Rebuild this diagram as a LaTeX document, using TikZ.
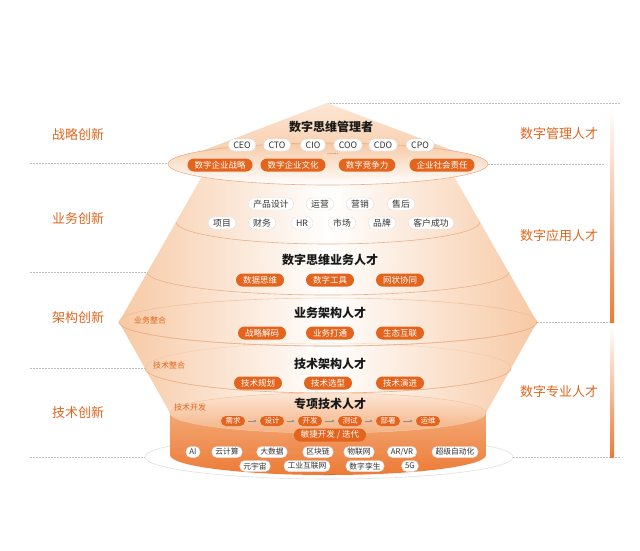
\documentclass[tikz,border=0pt]{standalone}
\usepackage{fontspec}
\setmainfont{Noto Sans CJK SC}
\usetikzlibrary{calc}
\usetikzlibrary{positioning}
\usetikzlibrary{arrows.meta}
\definecolor{chipOrange}{HTML}{E4641D}
\definecolor{labelOrange}{HTML}{E0661F}
\definecolor{peach}{HTML}{F7C9A4}
\definecolor{peachLight}{HTML}{FCE6D4}
\definecolor{lineOrange}{HTML}{EBB08A}
\definecolor{cylTop}{HTML}{F5B68A}
\definecolor{cylBottom}{HTML}{EC7B36}
\tikzstyle{whitenode} = [draw=black!12, fill=white, rounded corners=6pt, inner xsep=5pt, inner ysep=0pt, minimum height=12pt, text=black!80, font=\fontsize{8.8}{9}\selectfont]
\tikzstyle{technode} = [whitenode, rounded corners=5pt, inner xsep=3.5pt, minimum height=11pt, font=\fontsize{7.8}{8}\selectfont]
\tikzstyle{orangenode} = [fill=chipOrange, rounded corners=6.5pt, inner xsep=7pt, inner ysep=0pt, minimum height=13pt, text=white, font=\fontsize{8.5}{9}\selectfont]
\tikzstyle{flownode} = [orangenode, rounded corners=5pt, minimum height=10pt, inner xsep=4.5pt, font=\fontsize{7.5}{8}\selectfont]
\tikzstyle{titlenode} = [text=black!90, font=\fontsize{12}{14}\selectfont\bfseries]
\tikzstyle{sidelabel} = [text=labelOrange, font=\fontsize{13}{15}\selectfont]
\tikzstyle{smalllabel} = [text=labelOrange, font=\fontsize{8}{9}\selectfont]
\tikzstyle{dotsnode} = [text=black!70, font=\fontsize{7}{8}\selectfont, inner sep=0pt]
\tikzstyle{guideline} = [black!25, dash pattern=on 1.5pt off 1.5pt, line width=0.5pt]
\tikzstyle{bandline} = [draw=lineOrange, line width=0.6pt]
\tikzstyle{flowarrow} = [-{Latex[length=2.5pt, width=2.5pt]}, black!45, line width=0.5pt, shorten >=3pt, shorten <=3pt]

\begin{document}
\begin{tikzpicture}[x=1pt, y=-1pt]
    \useasboundingbox[fill=white] (0,0) rectangle (640,550);

    % guide lines
    \draw[guideline] (30,163) -- (168,163);
    \draw[guideline] (30,272) -- (148,272);
    \draw[guideline] (30,368) -- (146,368);
    \draw[guideline] (30,457) -- (145,457);
    \draw[guideline] (327,103) -- (620,103);
    \draw[guideline] (488,164) -- (605,164);
    \draw[guideline] (537,322) -- (612,322);
    \draw[guideline] (513,457) -- (620,457);

    % right bars
    \shade[top color=white, bottom color=cylBottom] (610,108) rectangle (614,322);
    \shade[top color=white, bottom color=cylBottom] (610,326) rectangle (614,457);

    % base plate
    \draw[draw=black!12, fill=white, line width=0.6pt] (329,457) ellipse [x radius=184pt, y radius=22pt];

    % double cone
    \shade[left color=peach, right color=peach, middle color=white]
        (209,164) -- (119,322) -- (170,413) -- (486,413) -- (537,322) -- (447,164) -- cycle;
    \draw[bandline] (176,222) arc [start angle=180, end angle=360, x radius=152pt, y radius=22pt];
    \draw[bandline] (147,272) arc [start angle=180, end angle=360, x radius=181pt, y radius=23pt];
    \draw[bandline, opacity=0.6] (328,322) ellipse [x radius=209pt, y radius=24pt];
    \draw[bandline] (119,322) arc [start angle=180, end angle=360, x radius=209pt, y radius=24pt];
    \draw[bandline, opacity=0.3] (328,368) ellipse [x radius=183pt, y radius=25pt];
    \draw[bandline] (145,368) arc [start angle=180, end angle=360, x radius=183pt, y radius=25pt];

    % top cone
    \shade[top color=peachLight, bottom color=peach] (327,103) -- (168,164) -- (488,164) -- cycle;
    \shade[bandline, top color=peach, bottom color=white] (328,164) ellipse [x radius=160pt, y radius=21pt];

    % cylinder
    \shade[top color=cylTop, bottom color=cylBottom]
        (170,413) -- (170,455) arc [start angle=180, end angle=360, x radius=158pt, y radius=20pt]
        -- (486,413) arc [start angle=0, end angle=180, x radius=158pt, y radius=20pt] -- cycle;
    \shade[draw=peach, line width=0.5pt, top color=peachLight, bottom color=cylTop!90!cylBottom] (328,413) ellipse [x radius=158pt, y radius=20pt];

    % side labels
    \node[sidelabel] (inno_strategy) at (78,135) {战略创新};
    \node[sidelabel] (inno_business) at (78,219) {业务创新};
    \node[sidelabel] (inno_arch) at (78,318) {架构创新};
    \node[sidelabel] (inno_tech) at (78,413) {技术创新};
    \node[sidelabel] (talent_mgr) at (559,134) {数字管理人才};
    \node[sidelabel] (talent_app) at (559,236) {数字应用人才};
    \node[sidelabel] (talent_pro) at (559,392) {数字专业人才};
    \node[smalllabel] (int_business) at (150,320) {业务整合};
    \node[smalllabel] (int_tech) at (169,365) {技术整合};
    \node[smalllabel] (dev_tech) at (190,407) {技术开发};

    % managers
    \node[titlenode] (mgr_title) at (331,127) {数字思维管理者};
    \node[whitenode] (mgr_ceo) at ($(mgr_title)+(-89,18)$) {CEO};
    \node[whitenode] (mgr_cto) at ($(mgr_title)+(-54,18)$) {CTO};
    \node[whitenode] (mgr_cio) at ($(mgr_title)+(-18,18)$) {CIO};
    \node[whitenode] (mgr_coo) at ($(mgr_title)+(17,18)$) {COO};
    \node[whitenode] (mgr_cdo) at ($(mgr_title)+(52,18)$) {CDO};
    \node[whitenode] (mgr_cpo) at ($(mgr_title)+(89,18)$) {CPO};
    \node[dotsnode] (mgr_dots) at ($(mgr_title)+(2,27)$) {......};
    \node[orangenode] (mgr_strategy) at ($(mgr_title)+(-111,38)$) {数字企业战略};
    \node[orangenode] (mgr_culture) at ($(mgr_title)+(-38,38)$) {数字企业文化};
    \node[orangenode] (mgr_compete) at ($(mgr_title)+(36,38)$) {数字竞争力};
    \node[orangenode] (mgr_social) at ($(mgr_title)+(111,38)$) {企业社会责任};

    % business functions
    \node[whitenode] (fn_design) at (271,204) {产品设计};
    \node[whitenode] (fn_ops) at (320,204) {运营};
    \node[whitenode] (fn_sales) at (360,204) {营销};
    \node[whitenode] (fn_service) at (401,204) {售后};
    \node[whitenode] (fn_project) at (222,223) {项目};
    \node[whitenode] (fn_finance) at (262,223) {财务};
    \node[whitenode] (fn_hr) at (302,223) {HR};
    \node[whitenode] (fn_market) at (342,223) {市场};
    \node[whitenode] (fn_brand) at (382,223) {品牌};
    \node[whitenode] (fn_success) at (431,223) {客户成功};

    % business talent
    \node[titlenode] (biz_title) at (330,260) {数字思维业务人才};
    \node[orangenode] (biz_data) at ($(biz_title)+(-70,20)$) {数据思维};
    \node[orangenode] (biz_tools) at ($(biz_title)+(0,20)$) {数字工具};
    \node[orangenode] (biz_mesh) at ($(biz_title)+(70,20)$) {网状协同};

    % business architecture
    \node[titlenode] (arch_title) at (330,313) {业务架构人才};
    \node[orangenode] (arch_decode) at ($(arch_title)+(-68,20)$) {战略解码};
    \node[orangenode] (arch_link) at ($(arch_title)+(0,20)$) {业务打通};
    \node[orangenode] (arch_eco) at ($(arch_title)+(70,20)$) {生态互联};

    % technical architecture
    \node[titlenode] (tech_title) at (330,364) {技术架构人才};
    \node[orangenode] (tech_plan) at ($(tech_title)+(-72,19)$) {技术规划};
    \node[orangenode] (tech_select) at ($(tech_title)+(-2,19)$) {技术选型};
    \node[orangenode] (tech_evolve) at ($(tech_title)+(70,19)$) {技术演进};

    % specialists
    \node[titlenode] (spec_title) at (330,404) {专项技术人才};
    \node[flownode] (spec_req) at ($(spec_title)+(-97,17)$) {需求};
    \node[flownode] (spec_design) at ($(spec_title)+(-58,17)$) {设计};
    \node[flownode] (spec_dev) at ($(spec_title)+(-20,17)$) {开发};
    \node[flownode] (spec_test) at ($(spec_title)+(20,17)$) {测试};
    \node[flownode] (spec_deploy) at ($(spec_title)+(58,17)$) {部署};
    \node[flownode] (spec_ops) at ($(spec_title)+(98,17)$) {运维};
    \node[orangenode] (spec_agile) at ($(spec_title)+(0,31)$) {敏捷开发 / 迭代};
    \draw[flowarrow] (spec_req) -- (spec_design);
    \draw[flowarrow] (spec_design) -- (spec_dev);
    \draw[flowarrow] (spec_dev) -- (spec_test);
    \draw[flowarrow] (spec_test) -- (spec_deploy);
    \draw[flowarrow] (spec_deploy) -- (spec_ops);

    % technologies
    \node[technode] (it_ai) at (193,452) {AI};
    \node[technode] (it_cloud) at (227,452) {云计算};
    \node[technode] (it_bigdata) at (272,452) {大数据};
    \node[technode] (it_chain) at (318,452) {区块链};
    \node[technode] (it_iot) at (359,452) {物联网};
    \node[technode] (it_arvr) at (402,452) {AR/VR};
    \node[technode] (it_auto) at (455,452) {超级自动化};
    \node[technode] (it_meta) at (255,466) {元宇宙};
    \node[technode] (it_iiot) at (307,466) {工业互联网};
    \node[technode] (it_twin) at (365,466) {数字孪生};
    \node[technode] (it_5g) at (410,466) {5G};
    \node[dotsnode] (it_dots) at (330,475) {......};
\end{tikzpicture}
\end{document}
